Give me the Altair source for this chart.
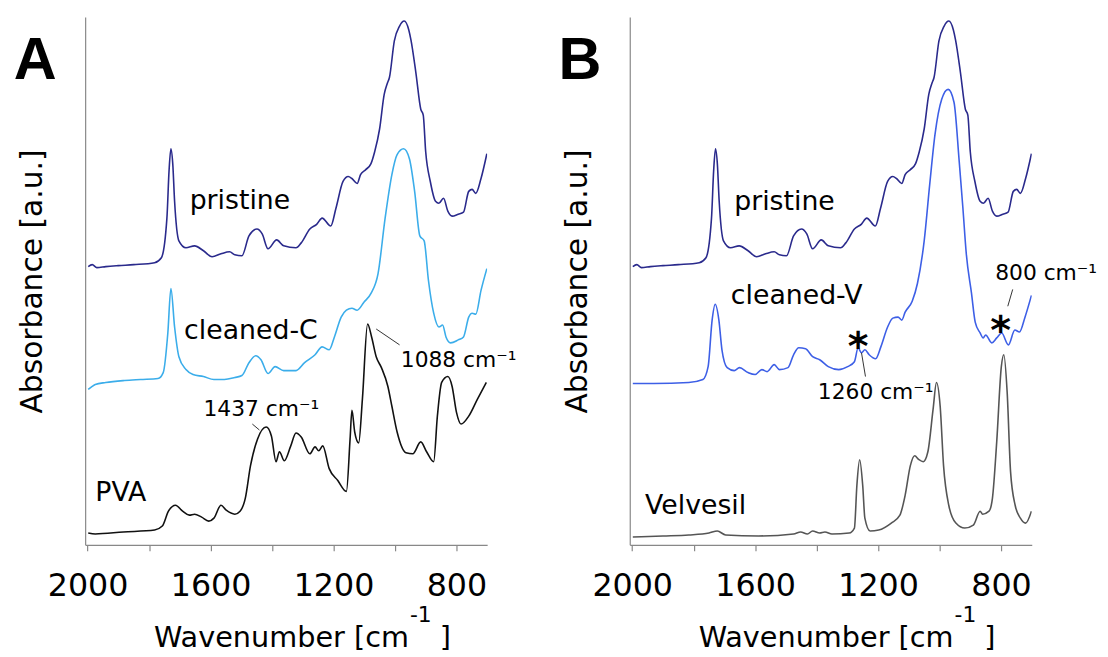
import altair as alt
import pandas as pd

# ---------------- data (wavenumber in cm-1, absorbance in a.u., offset stacked) ----------------
pristine_wn = [1998, 1985, 1970, 1941, 1900, 1850, 1782, 1760, 1742, 1735, 1729, 1723, 1717,
               1703, 1680, 1652, 1623, 1595, 1566, 1538, 1521, 1498, 1475, 1449, 1432, 1413,
               1385, 1362, 1322, 1305, 1277, 1254, 1237, 1209, 1192, 1169, 1152, 1140, 1123,
               1112, 1095, 1078, 1066, 1050, 1035, 1025, 1018, 1002, 985, 970, 955, 948, 932,
               916, 908, 900, 885, 868, 857, 842, 828, 814, 794, 777, 760, 749, 737, 720, 701]
pristine_abs = [281, 283, 280, 281, 282, 283, 285, 290, 330, 378, 400, 385, 347,
                307, 300, 302, 297, 291, 294, 296, 293, 292, 312, 319, 314, 299,
                308, 302, 300, 305, 319, 324, 330, 322, 340, 367, 372, 370, 365,
                374, 379, 385, 397, 420, 455, 466, 472, 509, 524, 529, 520, 510, 477,
                440, 434, 397, 367, 347, 345, 350, 337, 332, 334, 336, 357, 359, 355, 370, 395]

cleanedC_wn = [1998, 1985, 1975, 1941, 1880, 1828, 1771, 1754, 1739, 1729, 1717, 1703, 1680,
               1657, 1623, 1589, 1555, 1521, 1498, 1475, 1453, 1436, 1413, 1390, 1362, 1322,
               1294, 1260, 1237, 1214, 1197, 1175, 1158, 1140, 1123, 1101, 1078, 1055, 1032,
               1010, 993, 972, 953, 936, 919, 905, 891, 874, 857, 845, 834, 819, 794, 777,
               760, 749, 737, 720, 701]
cleanedC_abs = [157, 160, 162, 164, 166, 167, 168, 174, 214, 259, 220, 190, 177,
                172, 170, 167, 167, 169, 171, 184, 191, 187, 173, 180, 176, 176,
                184, 192, 200, 197, 210, 230, 237, 239, 237, 245, 254, 274, 330,
                374, 394, 400, 390, 357, 312, 307, 267, 234, 220, 222, 210, 204, 207, 210,
                230, 234, 233, 257, 279]

pva_wn = [1998, 1975, 1884, 1782, 1757, 1737, 1714, 1691, 1669, 1652, 1629, 1606, 1589,
          1566, 1549, 1521, 1504, 1487, 1470, 1447, 1419, 1402, 1387, 1376, 1360, 1339,
          1322, 1305, 1277, 1260, 1248, 1235, 1214, 1186, 1158, 1146, 1140, 1131, 1118,
          1106, 1089, 1076, 1061, 1044, 1023, 1010, 993, 964, 942, 916, 897, 874, 862,
          848, 828, 814, 800, 785, 760, 732, 703]
pva_abs = [12, 11, 13, 15, 19, 34, 40, 34, 30, 31, 28, 24, 27,
           40, 35, 31, 34, 47, 80, 107, 119, 110, 84, 94, 85, 100,
           113, 109, 92, 99, 95, 100, 77, 65, 54, 107, 136, 114, 103,
           147, 223, 210, 190, 179, 160, 140, 114, 93, 92, 104, 94, 84, 130,
           164, 170, 160, 134, 122, 130, 147, 164]

cleanedV_wn = [1998, 1930, 1816, 1770, 1753, 1740, 1730, 1718, 1708, 1691, 1668, 1651, 1623,
               1600, 1578, 1561, 1538, 1521, 1493, 1475, 1458, 1436, 1413, 1390, 1362, 1328,
               1299, 1277, 1265, 1254, 1243, 1229, 1208, 1191, 1169, 1152, 1135, 1123, 1112,
               1089, 1072, 1050, 1032, 1015, 993, 972, 953, 936, 924, 913, 896, 884, 868,
               858, 850, 830, 814, 798, 776, 755, 740, 722, 701]
cleanedV_abs = [163, 163, 164, 167, 180, 227, 243, 227, 197, 179, 176, 179, 174,
                172, 177, 175, 182, 177, 179, 192, 199, 198, 190, 187, 180, 177,
                180, 185, 199, 194, 197, 192, 188, 200, 220, 229, 230, 227, 235,
                246, 264, 307, 364, 414, 450, 460, 447, 387, 340, 294, 254, 225, 214,
                209, 212, 204, 209, 214, 202, 217, 215, 230, 252]

velvesil_wn = [1998, 1900, 1816, 1750, 1723, 1696, 1589, 1475, 1452, 1430, 1413, 1390, 1373,
               1350, 1294, 1277, 1269, 1260, 1250, 1243, 1226, 1198, 1157, 1129, 1112, 1095,
               1081, 1067, 1053, 1038, 1021, 1010, 998, 987, 970, 947, 918, 890, 868, 860,
               839, 828, 814, 799, 791, 780, 769, 754, 737, 720, 701]
velvesil_abs = [8, 9, 10, 12, 14, 10, 9, 11, 13, 11, 14, 12, 13,
                11, 12, 17, 60, 86, 60, 27, 14, 15, 22, 30, 50, 80,
                90, 86, 84, 94, 137, 164, 140, 80, 40, 22, 17, 20, 34, 31,
                34, 47, 104, 180, 192, 154, 74, 40, 27, 22, 34]

# annotations (text, wavenumber, absorbance)
A_names = ["pristine", "cleaned-C", "PVA"]
A_name_wn = [1668, 1686, 1975]
A_name_abs = [339, 208, 44]
A_peak_text = ["1437 cm\u207b\u00b9", "1088 cm\u207b\u00b9"]
A_peak_wn = [1623, 981]
A_peak_abs = [130, 180]
A_lead_wn = [1464, 1061]
A_lead_wn2 = [1441, 985]
A_lead_abs = [122, 218]
A_lead_abs2 = [116, 202]

B_names = ["pristine", "cleaned-V", "Velvesil"]
B_name_wn = [1668, 1679, 1958]
B_name_abs = [338, 243, 31]
B_peak_text = ["1260 cm\u207b\u00b9", "800 cm\u207b\u00b9"]
B_peak_wn = [1396, 819]
B_peak_abs = [147, 268]
B_lead_wn = [1254, 762]
B_lead_wn2 = [1241, 778]
B_lead_abs = [194, 258]
B_lead_abs2 = [170, 241]
B_star_wn = [1265, 801]
B_star_abs = [187, 203]

# x-axis title pieces: "Wavenumber [cm", superscript "-1", "]"
XTITLE_PARTS = ["Wavenumber [cm", "-1", "]"]

X_TICKS = [2000, 1800, 1600, 1400, 1200, 1000, 800]
W, H = 406, 533
FONT = "DejaVu Sans"

x_enc = alt.X("wn:Q",
              scale=alt.Scale(domain=[700, 2008], reverse=True, nice=False, zero=False),
              axis=alt.Axis(values=X_TICKS, format="d",
                            labelExpr="datum.value % 400 == 0 ? datum.label : ''",
                            grid=False, tickSize=6, tickColor="#888", domainColor="#888",
                            domainWidth=1.2, tickWidth=1.2,
                            labelFont=FONT, labelFontSize=32, labelColor="#000",
                            labelBaseline="alphabetic", labelPadding=45, labelOverlap=False,
                            labelFlush=False, title=None))
y_enc = alt.Y("abs:Q",
              scale=alt.Scale(domain=[0, 533], nice=False, zero=False),
              axis=alt.Axis(labels=False, ticks=False, grid=False, domainColor="#888",
                            domainWidth=1.2,
                            title="Absorbance [a.u.]", titleFont=FONT, titleFontSize=30,
                            titleFontWeight="normal", titleColor="#000",
                            titlePadding=38))


def series(name, wn, ab):
    return pd.DataFrame({"wn": wn, "abs": ab, "series": name})


def fixed_text(t, x, y, size, align="left", weight="normal", font=FONT):
    return alt.Chart(pd.DataFrame({"t": [t]})).mark_text(
        font=font, fontWeight=weight, fontSize=size, align=align,
        baseline="alphabetic", color="#000"
    ).encode(text="t:N", x=alt.value(x), y=alt.value(y))


def panel(letter, sers, colors, names, name_wn, name_abs, ptxt, pwn, pabs,
          lwn, lwn2, labs, labs2, swn=None, sabs=None):
    lines = []
    for (n, w, a), c in zip(sers, colors):
        lines.append(
            alt.Chart(series(n, w, a)).mark_line(
                strokeWidth=1.6, clip=True, color=c, interpolate="monotone"
            ).encode(x=x_enc, y=y_enc)
        )
    names_df = pd.DataFrame({"wn": name_wn, "abs": name_abs, "t": names})
    name_txt = alt.Chart(names_df).mark_text(
        font=FONT, fontSize=27, align="left", baseline="alphabetic", color="#000"
    ).encode(x=x_enc, y=y_enc, text="t:N")
    peak_df = pd.DataFrame({"wn": pwn, "abs": pabs, "t": ptxt})
    peak_txt = alt.Chart(peak_df).mark_text(
        font=FONT, fontSize=22, align="left", baseline="alphabetic", color="#000"
    ).encode(x=x_enc, y=y_enc, text="t:N")
    lead_df = pd.DataFrame({"wn": lwn, "wn2": lwn2, "abs": labs, "abs2": labs2})
    leads = alt.Chart(lead_df).mark_rule(color="#333", strokeWidth=1).encode(
        x=x_enc, x2="wn2:Q", y=y_enc, y2="abs2:Q")
    letter_txt = fixed_text(letter, -72, 62, 60, weight="bold", font="Liberation Sans")
    t1 = fixed_text(XTITLE_PARTS[0], 327, 636, 29, align="right")
    t2 = fixed_text(XTITLE_PARTS[1], 339, 611, 22, align="center")
    t3 = fixed_text(XTITLE_PARTS[2], 358, 636, 29)
    layers = lines + [name_txt, peak_txt, leads, letter_txt, t1, t2, t3]
    if swn is not None:
        star_df = pd.DataFrame({"wn": swn, "abs": sabs, "t": ["*"] * len(swn)})
        stars = alt.Chart(star_df).mark_text(
            font=FONT, fontWeight="bold", fontSize=40, align="center",
            baseline="alphabetic", color="#000"
        ).encode(x=x_enc, y=y_enc, text="t:N")
        layers.append(stars)
    return alt.layer(*layers).properties(width=W, height=H)


panel_a = panel(
    "A",
    [("pristine", pristine_wn, pristine_abs),
     ("cleaned-C", cleanedC_wn, cleanedC_abs),
     ("PVA", pva_wn, pva_abs)],
    ["#2a2a8c", "#3badea", "#111111"],
    A_names, A_name_wn, A_name_abs, A_peak_text, A_peak_wn, A_peak_abs,
    A_lead_wn, A_lead_wn2, A_lead_abs, A_lead_abs2)

panel_b = panel(
    "B",
    [("pristine", pristine_wn, pristine_abs),
     ("cleaned-V", cleanedV_wn, cleanedV_abs),
     ("Velvesil", velvesil_wn, velvesil_abs)],
    ["#2a2a8c", "#3d5fe6", "#555555"],
    B_names, B_name_wn, B_name_abs, B_peak_text, B_peak_wn, B_peak_abs,
    B_lead_wn, B_lead_wn2, B_lead_abs, B_lead_abs2, B_star_wn, B_star_abs)

chart = alt.hconcat(panel_a, panel_b, spacing=144, bounds="flush").properties(
    padding={"left": 14, "top": 14, "right": 10, "bottom": 5},
    background="white",
).configure_view(stroke=None)

chart.save("out.html", embed_options={"renderer": "svg", "actions": False})
